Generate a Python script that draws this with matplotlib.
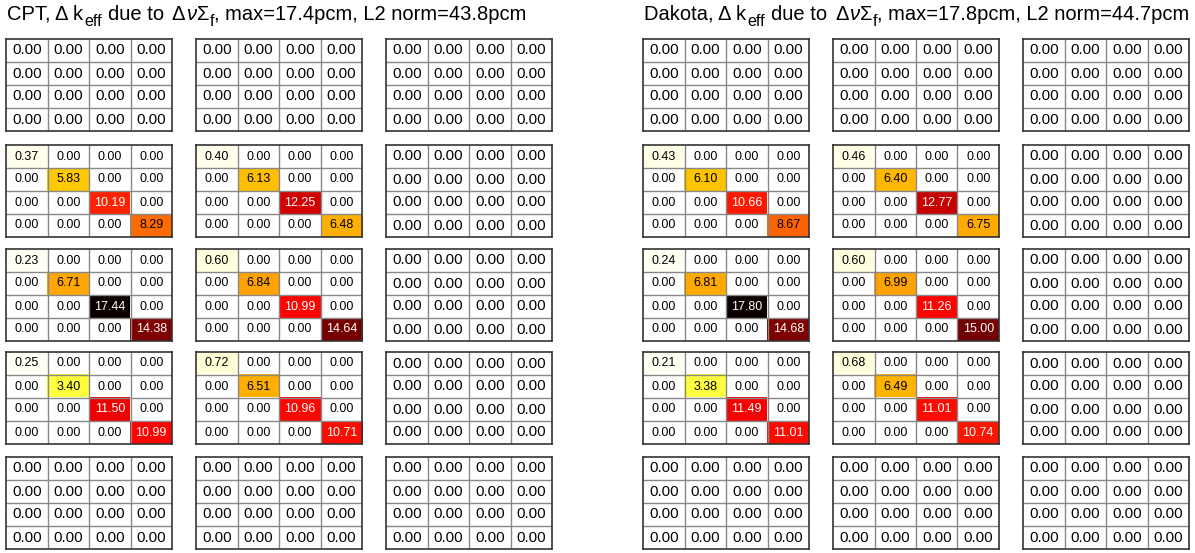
import numpy as np
import matplotlib.pyplot as plt

plt.rcParams['font.family'] = ['Liberation Sans', 'DejaVu Sans']

# data: codes and summary numbers
codes = ['CPT', 'Dakota']
max_pcm = [17.4, 17.8]
l2_pcm = [43.8, 44.7]

# diagonal values of the non-zero 4x4 blocks (block rows 2-4, block cols 1-2)
cpt_r2c1 = [0.37, 5.83, 10.19, 8.29]
cpt_r2c2 = [0.40, 6.13, 12.25, 6.48]
cpt_r3c1 = [0.23, 6.71, 17.44, 14.38]
cpt_r3c2 = [0.60, 6.84, 10.99, 14.64]
cpt_r4c1 = [0.25, 3.40, 11.50, 10.99]
cpt_r4c2 = [0.72, 6.51, 10.96, 10.71]

dak_r2c1 = [0.43, 6.10, 10.66, 8.67]
dak_r2c2 = [0.46, 6.40, 12.77, 6.75]
dak_r3c1 = [0.24, 6.81, 17.80, 14.68]
dak_r3c2 = [0.60, 6.99, 11.26, 15.00]
dak_r4c1 = [0.21, 3.38, 11.49, 11.01]
dak_r4c2 = [0.68, 6.49, 11.01, 10.74]

panel_blocks = [
    {(1, 0): cpt_r2c1, (1, 1): cpt_r2c2, (2, 0): cpt_r3c1,
     (2, 1): cpt_r3c2, (3, 0): cpt_r4c1, (3, 1): cpt_r4c2},
    {(1, 0): dak_r2c1, (1, 1): dak_r2c2, (2, 0): dak_r3c1,
     (2, 1): dak_r3c2, (3, 0): dak_r4c1, (3, 1): dak_r4c2},
]

# layout in pixels
W, H = 1195, 553
panel_x0 = [6, 643]
block_dx = 190
block_w, block_h = 166, 92
block_tops = [39, 145, 249, 352, 457]
title_fs = 14.5

fig = plt.figure(figsize=(W / 100, H / 100), dpi=100)
renderer = fig.canvas.get_renderer()


def title_pieces(x_px, pieces):
    # write the title piece by piece so the subscripts can be placed by hand
    for txt, kind, gap in pieces:
        x_px += gap
        fs = title_fs
        dy = 0
        style = 'normal'
        if kind == 'sub':
            fs = title_fs * 0.8
            dy = -6
        elif kind == 'it':
            style = 'italic'
        t = fig.text(x_px / W, 1 - (20 - dy) / H, txt, fontsize=fs,
                     fontstyle=style, va='baseline', ha='left')
        x_px = t.get_window_extent(renderer).x1


for p in range(2):
    blocks = panel_blocks[p]
    vmax = max(max(v) for v in blocks.values())
    title_pieces(panel_x0[p] + 1, [
        (codes[p] + ', \u0394 k', 'n', 0),
        ('eff', 'sub', 1),
        ('due to', 'n', 6),
        ('\u0394', 'n', 8),
        ('\u03bd', 'it', 1),
        ('\u03a3', 'n', 0),
        ('f', 'sub', 1),
        (', max=%.1fpcm, L2 norm=%.1fpcm' % (max_pcm[p], l2_pcm[p]), 'n', 0),
    ])
    for br in range(5):
        for bc in range(3):
            x = panel_x0[p] + bc * block_dx
            y = block_tops[br]
            ax = fig.add_axes([x / W, 1 - (y + block_h) / H, block_w / W, block_h / H])
            if (br, bc) in blocks:
                mat = np.diag(blocks[(br, bc)])
                fs = 9
            else:
                mat = np.zeros((4, 4))
                fs = 10.8
            ax.imshow(mat, cmap='hot_r', vmin=0, vmax=vmax, aspect='auto',
                      interpolation='nearest')
            for k in range(1, 4):
                ax.axhline(k - 0.5, color='#888888', lw=1.0)
                ax.axvline(k - 0.5, color='#888888', lw=1.0)
            for i in range(4):
                for j in range(4):
                    v = mat[i, j]
                    col = 'white' if v / vmax > 0.5 else 'black'
                    ax.text(j, i, '%.2f' % v, ha='center', va='center',
                            fontsize=fs, color=col)
            ax.set_xticks([])
            ax.set_yticks([])
            for s in ax.spines.values():
                s.set_color('#333333')
                s.set_linewidth(1.2)

fig.savefig('out.png', dpi=100)
